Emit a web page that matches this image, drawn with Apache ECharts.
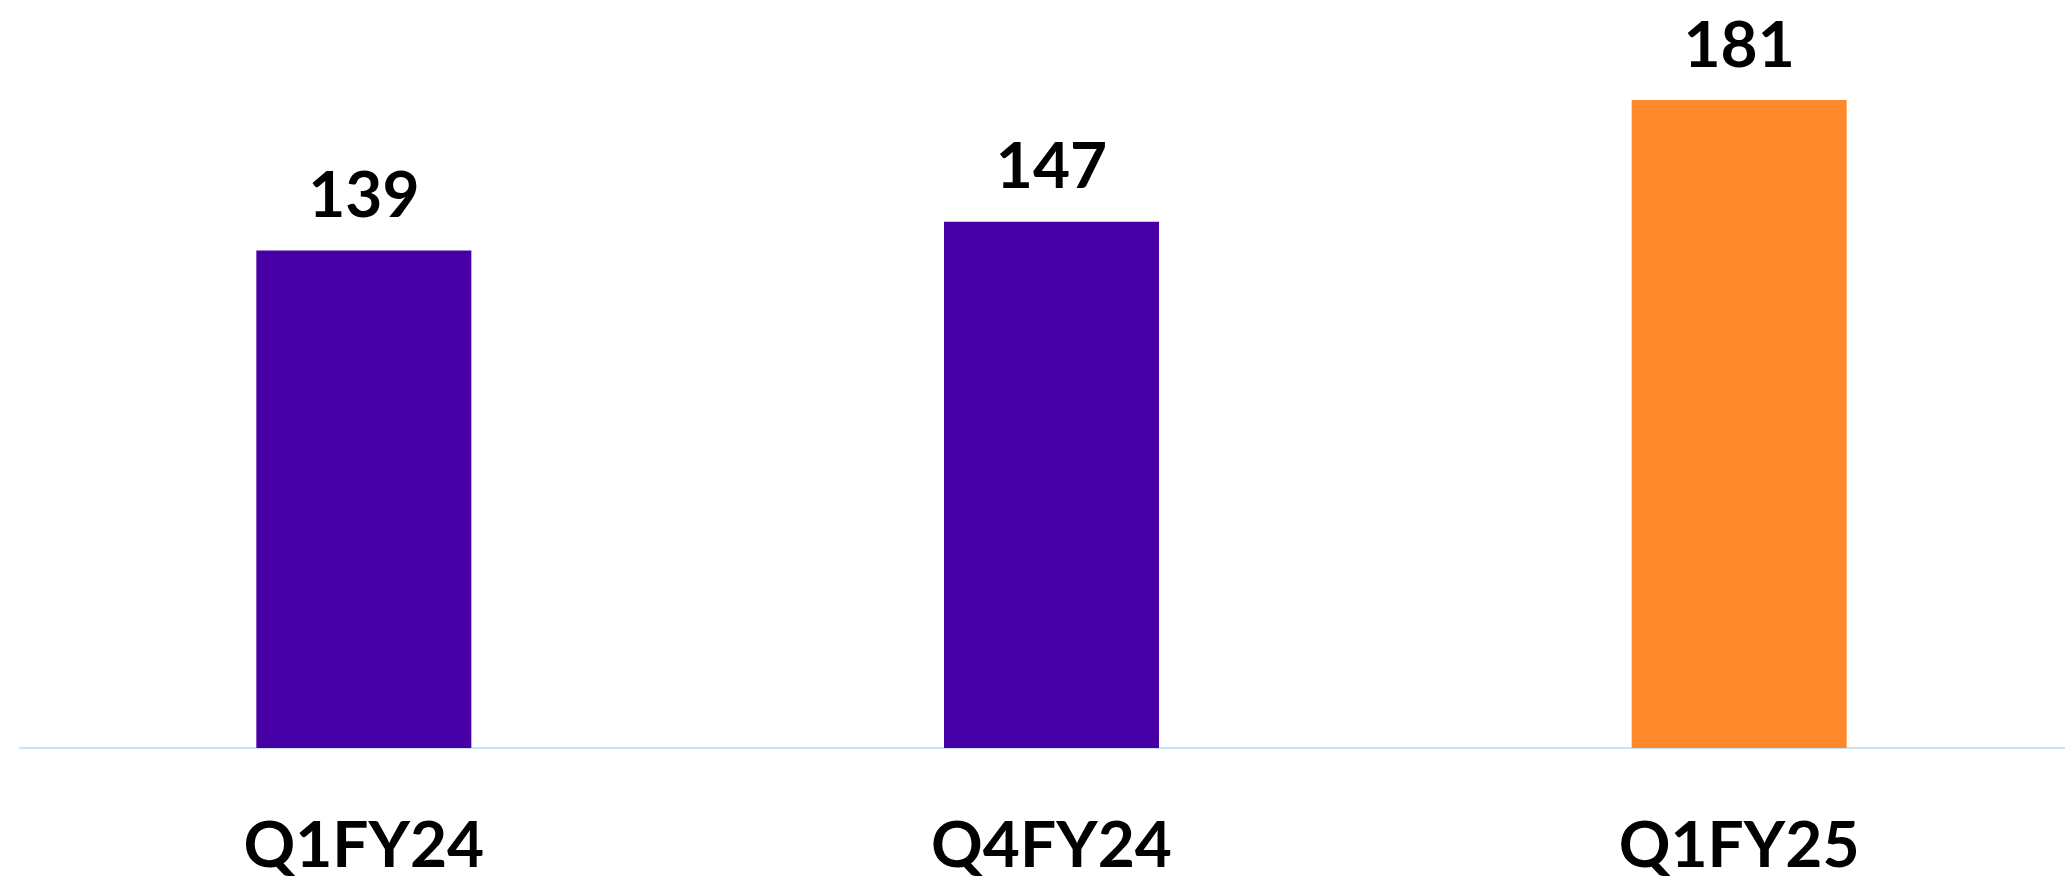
<!DOCTYPE html>
<html>
<head>
<meta charset="utf-8">
<script src="https://cdn.jsdelivr.net/npm/echarts@6/dist/echarts.min.js"></script>
<style>
  html, body { margin: 0; padding: 0; background: #fff; overflow: hidden; }
  #chart { width: 2090px; height: 884px; }
</style>
</head>
<body>
<div id="chart"></div>
<script>
  // 数据
  const categories = ['Q1FY24', 'Q4FY24', 'Q1FY25']
  const values = [139, 147, 181]
  const barColors = ['#4600A5', '#4600A5', '#FF882A']

  // 画布比窗口略宽，让最右边的分类带伸出画面
  const chart = echarts.init(document.getElementById('chart'))

  const option = {
    backgroundColor: '#ffffff',
    animation: false,
    grid: {
      left: 20,
      right: 7,
      top: 32,
      bottom: 136,
      containLabel: false
    },
    xAxis: {
      type: 'category',
      data: categories,
      axisTick: { show: false },
      axisLine: {
        lineStyle: { color: '#C9E4F7', width: 2 }
      },
      axisLabel: {
        margin: 66,
        color: '#000',
        fontFamily: 'Lato',
        fontWeight: 'bold',
        fontSize: 64
      }
    },
    yAxis: {
      type: 'value',
      min: 0,
      max: 200,
      show: false,
      splitLine: { show: false }
    },
    series: [
      {
        type: 'bar',
        barWidth: 215,
        data: values.map((v, i) => ({
          value: v,
          itemStyle: { color: barColors[i] }
        })),
        label: {
          show: true,
          position: 'top',
          distance: 22,
          color: '#000',
          fontFamily: 'Lato',
          fontWeight: 'bold',
          fontSize: 64
        }
      }
    ]
  }

  chart.setOption(option)
</script>
</body>
</html>
